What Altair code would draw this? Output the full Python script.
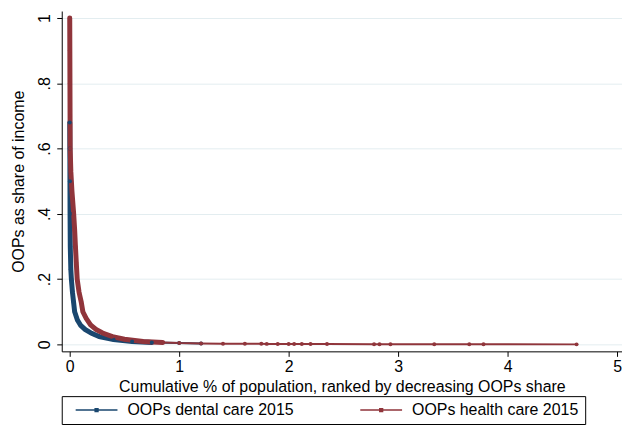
import altair as alt
import pandas as pd

health_x = [0.0, 0.001, 0.002, 0.003, 0.004, 0.01, 0.02, 0.036, 0.045, 0.052, 0.06, 0.068, 0.085, 0.105,
            0.12, 0.15, 0.19, 0.24, 0.3, 0.39, 0.5, 0.67, 0.85, 1.0, 1.2, 1.4, 1.6, 1.75, 1.8, 1.9,
            2.0, 2.05, 2.12, 2.2, 2.35, 2.78, 2.83, 2.93, 3.33, 3.65, 3.78, 4.63]
health_y = [1.0, 0.9, 0.8, 0.7, 0.6, 0.53, 0.47, 0.4, 0.35, 0.3, 0.25, 0.2, 0.16, 0.13,
            0.1, 0.08, 0.06, 0.046, 0.035, 0.024, 0.016, 0.009, 0.006, 0.004, 0.003, 0.002, 0.002, 0.0018, 0.0016, 0.0015,
            0.0014, 0.0012, 0.0011, 0.001, 0.001, 0.0008, 0.0008, 0.0006, 0.0005, 0.0004, 0.0003, 0.0001]

dental_x = [0.0, 0.001, 0.002, 0.003, 0.005, 0.01, 0.015, 0.025, 0.035, 0.045, 0.07, 0.1, 0.14,
            0.2, 0.27, 0.4, 0.57, 0.75, 1.0, 1.2]
dental_y = [0.68, 0.6, 0.5, 0.4, 0.3, 0.23, 0.2, 0.16, 0.13, 0.1, 0.075, 0.058, 0.046,
            0.034, 0.024, 0.015, 0.009, 0.006, 0.004, 0.003]

series = ["OOPs dental care 2015", "OOPs health care 2015"]
colors = ["#1a476f", "#90353b"]

rows = []
for i, (x, y) in enumerate(zip(dental_x, dental_y)):
    rows.append({"x": x, "y": y, "series": series[0], "order": i})
for i, (x, y) in enumerate(zip(health_x, health_y)):
    rows.append({"x": x, "y": y, "series": series[1], "order": i})
df = pd.DataFrame(rows)

xscale = alt.Scale(domain=[-0.073, 5.045], nice=False, zero=False)
yscale = alt.Scale(domain=[-0.0213, 1.0213], nice=False, zero=False)
cscale = alt.Scale(domain=series, range=colors)
color = alt.Color("series:N", scale=cscale,
                  legend=alt.Legend(title=None, orient="none", legendX=0, legendY=387,
                                    direction="horizontal",
                                    symbolType="M-3,0H3M-0.2,-0.2H0.2V0.2H-0.2Z",
                                    symbolSize=196, symbolStrokeWidth=1.5, symbolOffset=21,
                                    labelFontSize=16, labelFont="Liberation Sans", labelLimit=0,
                                    labelColor="#000", strokeColor="#000",
                                    padding=6, columnPadding=58, labelOffset=23,
                                    fillColor="white"))

xenc = alt.X("x:Q", scale=xscale,
             axis=alt.Axis(values=[0, 1, 2, 3, 4, 5], format="d",
                           title="Cumulative % of population, ranked by decreasing OOPs share",
                           grid=False, tickSize=5, labelPadding=2, titlePadding=4))
yenc = alt.Y("y:Q", scale=yscale,
             axis=alt.Axis(values=[0, 0.2, 0.4, 0.6, 0.8, 1.0], title="OOPs as share of income",
                           labelExpr="datum.value == 0 ? '0' : datum.value == 1 ? '1' : replace(format(datum.value, '.1f'), '0.', '.')",
                           labelAngle=270, labelAlign="center", labelBaseline="bottom",
                           grid=True, gridColor="#e3edf0", tickSize=5, labelPadding=4, titlePadding=10))

base = alt.Chart(df)
thin = base.mark_line(strokeWidth=2).encode(x=xenc, y=yenc, color=color, order="order:Q")
thick = base.transform_filter("datum.y >= 0.006").mark_line(strokeWidth=5, strokeCap="round").encode(
    x="x:Q", y="y:Q", color=alt.Color("series:N", scale=cscale, legend=None), order="order:Q")
pts = base.mark_circle(size=16, opacity=1).encode(
    x="x:Q", y="y:Q", color=alt.Color("series:N", scale=cscale, legend=None))

chart = alt.layer(thin, thick, pts).properties(
    width=563, height=342,
    autosize=alt.AutoSizeParams(type="none"),
    padding={"left": 54, "top": 2, "right": 0, "bottom": 80},
    background="white",
).configure_view(stroke=None).configure_axis(
    labelFont="Liberation Sans", titleFont="Liberation Sans", labelFontSize=16, titleFontSize=16,
    titleFontWeight="normal", labelColor="#000", titleColor="#000", domainColor="#000", tickColor="#000",
    domainWidth=1, tickWidth=1
)

chart.save("out.html", embed_options={"renderer": "svg", "actions": False})
